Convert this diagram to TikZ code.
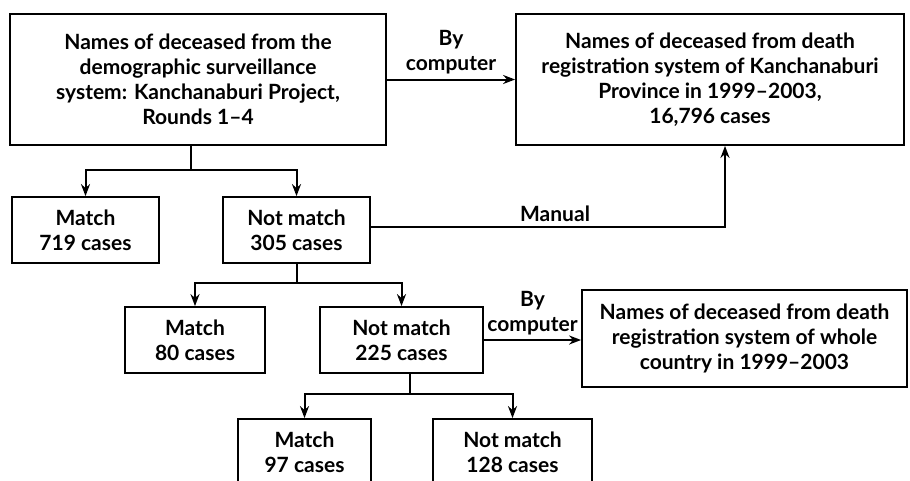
\documentclass[tikz,border=0pt]{standalone}
\usepackage{fontspec}
\setmainfont{Lato}
\usetikzlibrary{arrows.meta}
\usetikzlibrary{positioning, calc}

\begin{document}
\begin{tikzpicture}[x=1pt, y=-1pt, >={Stealth[length=12pt, width=9pt]}, line width=2pt,
  box/.style={rectangle, draw, line width=1.8pt, align=center, inner sep=0pt,
    font=\bfseries\fontsize{21}{25}\selectfont},
  sm box/.style={box, minimum height=66pt},
  lbl/.style={align=center, inner sep=4pt, font=\bfseries\fontsize{21}{25}\selectfont}]
  \useasboundingbox (0,0) rectangle (910,480);
  % sources
  \node[box, minimum width=376pt, minimum height=131pt] (dss) at (198,79.5)
    {Names of deceased from the\\demographic surveillance\\system: Kanchanaburi Project,\\Rounds 1--4};
  \node[box, minimum width=388pt, minimum height=131pt] (kan) at (710,79.5)
    {Names of deceased from death\\registration system of Kanchanaburi\\Province in 1999--2003,\\16,796 cases};
  \node[box, minimum width=325pt, minimum height=97pt] (whole) at (744.5,338.5)
    {Names of deceased from death\\registration system of whole\\country in 1999--2003};
  % results
  \node[sm box, minimum width=147pt] (m719) at (85.5,230) {Match\\719 cases};
  \node[sm box, minimum width=147pt] (n305) at (296.5,230) {Not match\\305 cases};
  \node[sm box, minimum width=140pt] (m80) at (195,340) {Match\\80 cases};
  \node[sm box, minimum width=163pt] (n225) at (401.5,340) {Not match\\225 cases};
  \node[sm box, minimum width=133pt] (m97) at (304.5,452) {Match\\97 cases};
  \node[sm box, minimum width=159pt] (n128) at (512.5,452) {Not match\\128 cases};
  % junctions
  \coordinate (j1) at (190.5,170);
  \coordinate (j2) at (296.5,283);
  \coordinate (j3) at (409.5,394);
  \coordinate (mturn) at (725,227);

  \draw[->] (dss.east) -- (kan.west) node[lbl, midway, above] {By\\computer};
  \draw (dss.south -| j1) -- (j1);
  \draw[->] (j1) -| (m719.north);
  \draw[->] (j1) -| (n305.north);
  \draw[->] (n305.east |- mturn) -- (mturn) node[lbl, pos=0.52, above] {Manual} -- (kan.south -| mturn);
  \draw (n305.south) -- (j2);
  \draw[->] (j2) -| (m80.north);
  \draw[->] (j2) -| (n225.north);
  \draw[->] (n225.east) -- (n225.east -| whole.west) node[lbl, midway, above] {By\\computer};
  \draw (n225.south -| j3) -- (j3);
  \draw[->] (j3) -| (m97.north);
  \draw[->] (j3) -| (n128.north);
\end{tikzpicture}
\end{document}
